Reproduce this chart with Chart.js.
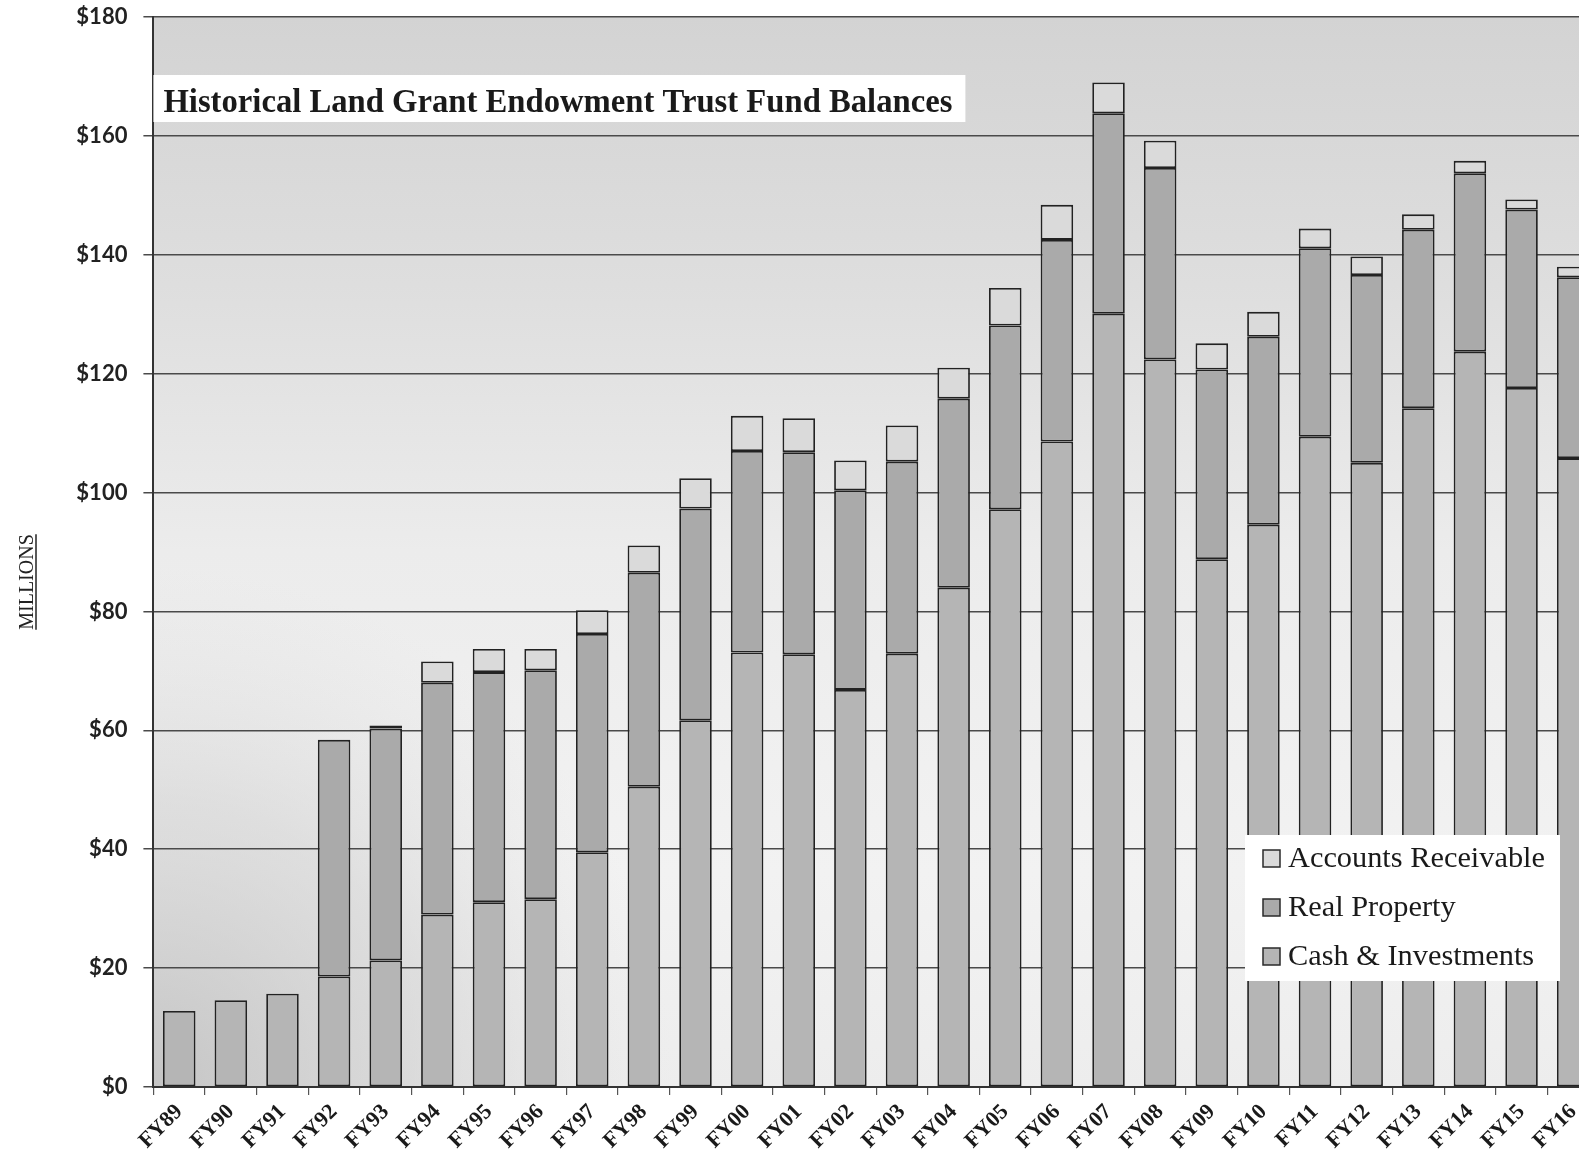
<!DOCTYPE html>
<html>
<head>
<meta charset="utf-8">
<script src="https://cdn.jsdelivr.net/npm/chart.js@4.4.1/dist/chart.umd.min.js"></script>
<style>
  html, body { margin: 0; padding: 0; background: #fff; overflow: hidden; }
  #wrap { width: 1579px; height: 1149px; overflow: hidden; position: relative; }
  canvas { position: absolute; left: 0; top: 0; }
</style>
</head>
<body>
<div id="wrap"><canvas id="fundChart" width="1599" height="1149"></canvas></div>
<script>
// fiscal years on the x axis
const categories = ['FY89', 'FY90', 'FY91', 'FY92', 'FY93', 'FY94', 'FY95', 'FY96', 'FY97', 'FY98',
  'FY99', 'FY00', 'FY01', 'FY02', 'FY03', 'FY04', 'FY05', 'FY06', 'FY07', 'FY08',
  'FY09', 'FY10', 'FY11', 'FY12', 'FY13', 'FY14', 'FY15', 'FY16'];

// values in millions
const cashInvestments = [12.8, 14.6, 15.7, 18.6, 21.3, 29.0, 31.1, 31.6, 39.5, 50.5,
  61.7, 73.1, 72.8, 66.8, 72.9, 84.0, 97.2, 108.6, 130.1, 122.4,
  88.8, 94.6, 109.4, 105.0, 114.2, 123.7, 117.6, 105.8];
const realProperty = [0, 0, 0, 39.8, 39.0, 39.0, 38.7, 38.5, 36.7, 36.0,
  35.6, 33.9, 34.0, 33.6, 32.3, 31.8, 30.9, 33.9, 33.7, 32.2,
  31.9, 31.6, 31.7, 31.6, 30.0, 30.0, 30.0, 30.4];
const accountsReceivable = [0, 0, 0, 0, 0.5, 3.6, 3.9, 3.6, 4.0, 4.6,
  5.1, 5.9, 5.7, 5.0, 6.1, 5.2, 6.3, 5.9, 5.2, 4.6,
  4.4, 4.2, 3.3, 3.1, 2.6, 2.1, 1.7, 1.8];

// y axis tick labels ($0 .. $180 by 20)
const yTickLabels = ['$0', '$20', '$40', '$60', '$80', '$100', '$120', '$140', '$160', '$180'];

const chartTitle = 'Historical Land Grant Endowment Trust Fund Balances';
const axisTitle = 'MILLIONS';

const serif = '"Liberation Serif", "Times New Roman", serif';
const narrow = '"Liberation Sans Narrow", Lato, "Open Sans", sans-serif';

// plot background, grey at top, light in the middle
const backgroundPlugin = {
  id: 'plotBackground',
  beforeDraw(chart) {
    const { ctx, chartArea: a } = chart;
    const g = ctx.createLinearGradient(0, a.top, 0, a.bottom);
    g.addColorStop(0, '#d3d3d3');
    g.addColorStop(0.25, '#dedede');
    g.addColorStop(0.5, '#ececec');
    g.addColorStop(0.8, '#f2f2f2');
    g.addColorStop(1, '#ededed');
    ctx.save();
    ctx.fillStyle = g;
    ctx.fillRect(a.left, a.top, a.right - a.left, a.bottom - a.top);
    // darker corner bottom left
    const r = ctx.createRadialGradient(a.left, a.bottom, 0, a.left, a.bottom, 520);
    r.addColorStop(0, 'rgba(190,190,190,0.85)');
    r.addColorStop(0.55, 'rgba(200,200,200,0.45)');
    r.addColorStop(1, 'rgba(220,220,220,0)');
    ctx.fillStyle = r;
    ctx.fillRect(a.left, a.top, a.right - a.left, a.bottom - a.top);
    ctx.restore();
  }
};

// title box, legend box and rotated axis title
const overlayPlugin = {
  id: 'overlay',
  afterDraw(chart) {
    const { ctx, chartArea: a } = chart;
    ctx.save();

    // title
    const tx = a.left + 10, ty = 112, tw = 789;
    ctx.fillStyle = '#ffffff';
    ctx.fillRect(a.left, 75, 812, 47);
    ctx.font = 'bold 33px ' + serif;
    ctx.fillStyle = '#1a1a1a';
    ctx.textBaseline = 'alphabetic';
    const natural = ctx.measureText(chartTitle).width;
    ctx.save();
    ctx.translate(tx, ty);
    ctx.scale(tw / natural, 1);
    ctx.fillText(chartTitle, 0, 0);
    ctx.restore();

    // legend, top item first
    const items = chart.data.datasets.slice().reverse();
    const lx = 1245, ly = 835, lw = 315, lh = 146;
    ctx.fillStyle = '#ffffff';
    ctx.fillRect(lx, ly, lw, lh);
    ctx.font = '30px ' + serif;
    const scaleX = 257 / ctx.measureText(items[0].label).width;
    items.forEach((ds, i) => {
      const base = 867 + i * 49;
      ctx.fillStyle = ds.backgroundColor;
      ctx.fillRect(lx + 18, base - 17, 17, 17);
      ctx.strokeStyle = '#2a2a2a';
      ctx.lineWidth = 1.5;
      ctx.strokeRect(lx + 18, base - 17, 17, 17);
      ctx.fillStyle = '#1a1a1a';
      ctx.save();
      ctx.translate(lx + 43, base);
      ctx.scale(scaleX, 1);
      ctx.fillText(ds.label, 0, 0);
      ctx.restore();
    });

    // MILLIONS, underlined
    ctx.translate(27, 582);
    ctx.rotate(-Math.PI / 2);
    ctx.font = '20px ' + serif;
    ctx.textAlign = 'center';
    ctx.fillStyle = '#222';
    ctx.fillText(axisTitle, 0, 6);
    const w = ctx.measureText(axisTitle).width;
    ctx.strokeStyle = '#222';
    ctx.lineWidth = 1.5;
    ctx.beginPath();
    ctx.moveTo(-w / 2, 9);
    ctx.lineTo(w / 2, 9);
    ctx.stroke();

    ctx.restore();
  }
};

const barStyle = {
  borderColor: '#222222',
  borderWidth: 1.8,
  borderSkipped: false,
  barPercentage: 0.63,
  categoryPercentage: 1.0
};

const ctx = document.getElementById('fundChart').getContext('2d');
new Chart(ctx, {
  type: 'bar',
  data: {
    labels: categories,
    datasets: [
      Object.assign({ label: 'Cash & Investments', data: cashInvestments, backgroundColor: '#b5b5b5' }, barStyle),
      Object.assign({ label: 'Real Property', data: realProperty, backgroundColor: '#aaaaaa' }, barStyle),
      Object.assign({ label: 'Accounts Receivable', data: accountsReceivable, backgroundColor: '#dadada' }, barStyle)
    ]
  },
  options: {
    responsive: false,
    animation: false,
    devicePixelRatio: 1,
    layout: { padding: { left: 0, right: 0, top: 17, bottom: 0 } },
    plugins: {
      legend: { display: false },
      title: { display: false },
      tooltip: { enabled: false }
    },
    scales: {
      x: {
        stacked: true,
        border: { display: true, color: '#333', width: 2 },
        grid: { offset: true, drawOnChartArea: false, drawTicks: true, tickLength: 8, color: '#555', lineWidth: 1.2 },
        ticks: {
          minRotation: 45,
          maxRotation: 45,
          padding: 4,
          color: '#1a1a1a',
          font: { family: serif, size: 22, weight: 'bold' }
        },
        afterFit(scale) {
          scale.height = 62;
          scale.paddingLeft = 0;
          scale.paddingRight = 0;
        }
      },
      y: {
        stacked: true,
        min: 0,
        max: 180,
        border: { display: true, color: '#333', width: 2 },
        grid: { color: '#4a4a4a', lineWidth: 1.5, tickLength: 10, drawTicks: true },
        ticks: {
          stepSize: 20,
          padding: 16,
          color: '#222',
          font: { family: narrow, size: 22, weight: 'bold' },
          callback: (v) => yTickLabels[Math.round(v / 20)]
        },
        afterFit(scale) {
          scale.width = 153.4;
          scale.paddingTop = 0;
          scale.paddingBottom = 0;
        }
      }
    }
  },
  plugins: [backgroundPlugin, overlayPlugin]
});
</script>
</body>
</html>
